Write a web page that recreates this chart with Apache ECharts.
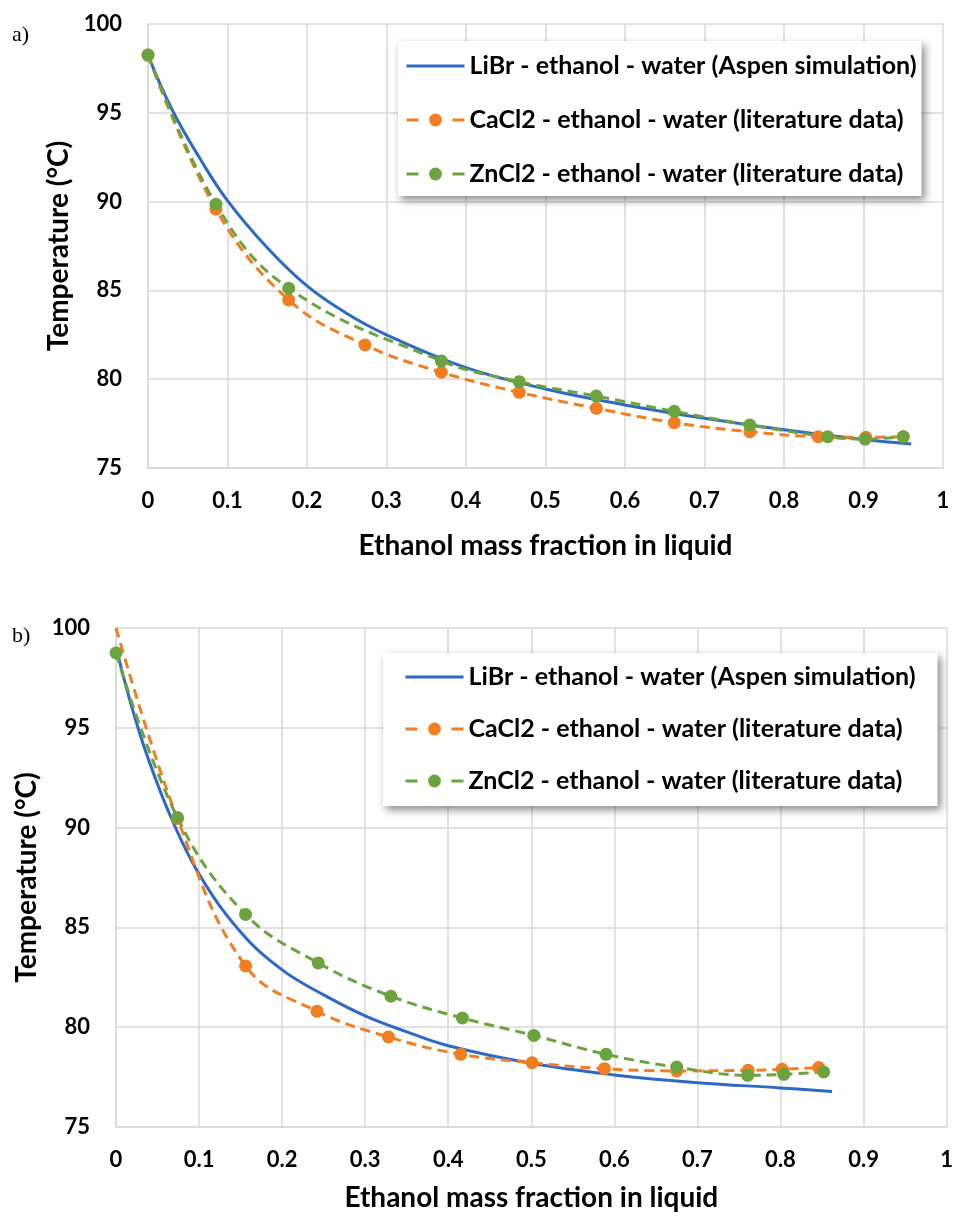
<!DOCTYPE html>
<html>
<head>
<meta charset="utf-8">
<script src="https://cdn.jsdelivr.net/npm/echarts@6/dist/echarts.min.js"></script>
<style>
  html, body { margin: 0; padding: 0; background: #fff; }
  #chart { width: 956px; height: 1217px; }
</style>
</head>
<body>
<div id="chart"></div>
<script>
// series names
const names = [
  'LiBr - ethanol - water (Aspen simulation)',
  'CaCl2 - ethanol - water (literature data)',
  'ZnCl2 - ethanol - water (literature data)'
];

// panel a
const xA_LiBr = [0, 0.03, 0.065, 0.1, 0.15, 0.2, 0.25, 0.3, 0.4, 0.5, 0.6, 0.7, 0.8, 0.9, 0.96];
const tA_LiBr = [98.25, 95.2, 92.45, 90.05, 87.4, 85.25, 83.7, 82.5, 80.65, 79.45, 78.55, 77.8, 77.15, 76.6, 76.35];
const xA_CaCl2 = [0, 0.0855, 0.177, 0.273, 0.369, 0.467, 0.564, 0.662, 0.757, 0.843, 0.903, 0.95];
const tA_CaCl2 = [98.25, 89.57, 84.46, 81.93, 80.39, 79.26, 78.36, 77.55, 77.04, 76.76, 76.73, 76.76];
const xA_ZnCl2 = [0, 0.0855, 0.177, 0.369, 0.467, 0.564, 0.662, 0.757, 0.855, 0.902, 0.95];
const tA_ZnCl2 = [98.25, 89.85, 85.12, 81.03, 79.86, 79.05, 78.19, 77.42, 76.76, 76.63, 76.76];

// panel b
const xB_LiBr = [0, 0.01, 0.02, 0.037, 0.066, 0.1, 0.15, 0.2, 0.25, 0.3, 0.35, 0.4, 0.5, 0.6, 0.7, 0.8, 0.862];
const tB_LiBr = [99.05, 97.4, 95.9, 93.66, 90.53, 87.67, 84.77, 82.87, 81.62, 80.57, 79.77, 79.07, 78.19, 77.61, 77.22, 76.96, 76.78];
const xB_CaCl2 = [0, 0.074, 0.156, 0.242, 0.328, 0.415, 0.501, 0.588, 0.675, 0.761, 0.802, 0.846];
const tB_CaCl2 = [100, 90.45, 83.07, 80.8, 79.51, 78.64, 78.22, 77.92, 77.81, 77.84, 77.89, 77.98];
const xB_ZnCl2 = [0, 0.074, 0.156, 0.2435, 0.331, 0.417, 0.503, 0.59, 0.675, 0.7605, 0.804, 0.852];
const tB_ZnCl2 = [98.75, 90.5, 85.65, 83.22, 81.55, 80.46, 79.59, 78.64, 78.0, 77.59, 77.64, 77.76];

const BLUE = '#2E6AC4';
const ORANGE = '#F27E22';
const GREEN = '#6BA43E';
const GRIDC = '#D9D9D9';
const FONT = 'Lato';

function pairs(xs, ys) {
  return xs.map((x, i) => [x, ys[i]]);
}

const chart = echarts.init(document.getElementById('chart'), null, { renderer: 'canvas' });

function xAxisCfg(gridIndex, nameGap) {
  return {
    type: 'value', gridIndex, min: 0, max: 1, interval: 0.1,
    name: 'Ethanol mass fraction in liquid',
    nameLocation: 'middle', nameGap,
    nameTextStyle: { fontFamily: FONT, fontWeight: 'bold', fontSize: 28, color: '#000' },
    axisLine: { show: true, lineStyle: { color: GRIDC, width: 1.5 } },
    axisTick: { show: false },
    axisLabel: {
      margin: 22, fontFamily: FONT, fontWeight: 'bold', fontSize: 22, color: '#000',
      formatter: v => (v === 0 || v === 1) ? String(v) : v.toFixed(1)
    },
    splitLine: { show: true, lineStyle: { color: GRIDC, width: 1.5 } }
  };
}

function yAxisCfg(gridIndex, nameGap) {
  return {
    type: 'value', gridIndex, min: 75, max: 100, interval: 5,
    name: 'Temperature (°C)',
    nameLocation: 'middle', nameGap,
    nameTextStyle: { fontFamily: FONT, fontWeight: 'bold', fontSize: 28, color: '#000' },
    axisLine: { show: true, lineStyle: { color: GRIDC, width: 1.5 } },
    axisTick: { show: false },
    axisLabel: { margin: 26, fontFamily: FONT, fontWeight: 'bold', fontSize: 22, color: '#000' },
    splitLine: { show: true, lineStyle: { color: GRIDC, width: 1.5 } }
  };
}

function lineSeries(idx, name, data, color, dashed) {
  const s = {
    type: 'line', name, xAxisIndex: idx, yAxisIndex: idx,
    data, smooth: 0.4, color,
    lineStyle: { color, width: 3, type: dashed ? [10, 6] : 'solid' },
    itemStyle: { color },
    emphasis: { disabled: true }
  };
  if (dashed) {
    s.symbol = 'circle';
    s.symbolSize = 13;
  } else {
    s.symbol = 'none';
    s.showSymbol = false;
  }
  return s;
}

function legendCfg(left, top, padding, itemGap) {
  return {
    orient: 'vertical', left, top, padding, itemGap,
    itemWidth: 58, itemHeight: 16,
    backgroundColor: '#fff',
    shadowBlur: 8, shadowColor: 'rgba(0,0,0,0.45)', shadowOffsetX: 3, shadowOffsetY: 4,
    selectedMode: false,
    textStyle: { fontFamily: FONT, fontWeight: 'bold', fontSize: 25, lineHeight: 26, color: '#000' },
    data: [
      { name: names[0], icon: 'path://M0 0H60V3H0Z' },
      { name: names[1], lineStyle: { type: [12, 34], width: 3 } },
      { name: names[2], lineStyle: { type: [12, 34], width: 3 } }
    ]
  };
}

// first orange point in panel b sits on the top border, no marker there
const orangeB = pairs(xB_CaCl2, tB_CaCl2);
orangeB[0] = { value: orangeB[0], symbol: 'none' };

const option = {
  animation: false,
  backgroundColor: '#fff',
  grid: [
    { left: 148, top: 24, width: 795, height: 444 },
    { left: 116, top: 628, width: 835, height: 499 }
  ],
  xAxis: [xAxisCfg(0, 64), xAxisCfg(1, 57)],
  yAxis: [yAxisCfg(0, 75), yAxisCfg(1, 70)],
  legend: [
    legendCfg(398, 41, [12, 5, 9, 7], 28),
    legendCfg(383, 653, [11, 22, 12, 21], 26)
  ],
  graphic: [
    { type: 'text', left: 12, top: 24, style: { text: 'a)', fontFamily: 'Liberation Serif', fontSize: 22, fill: '#000' } },
    { type: 'text', left: 12, top: 625, style: { text: 'b)', fontFamily: 'Liberation Serif', fontSize: 22, fill: '#000' } }
  ],
  series: [
    lineSeries(0, names[0], pairs(xA_LiBr, tA_LiBr), BLUE, false),
    lineSeries(0, names[1], pairs(xA_CaCl2, tA_CaCl2), ORANGE, true),
    lineSeries(0, names[2], pairs(xA_ZnCl2, tA_ZnCl2), GREEN, true),
    lineSeries(1, names[0], pairs(xB_LiBr, tB_LiBr), BLUE, false),
    lineSeries(1, names[1], orangeB, ORANGE, true),
    lineSeries(1, names[2], pairs(xB_ZnCl2, tB_ZnCl2), GREEN, true)
  ]
};

chart.setOption(option);
</script>
</body>
</html>
